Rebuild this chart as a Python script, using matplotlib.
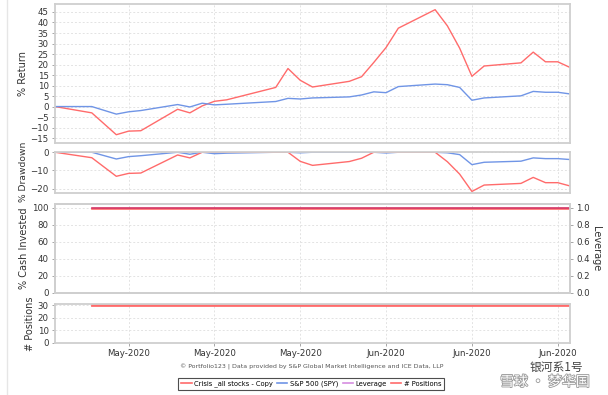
import matplotlib
matplotlib.use("Agg")
import matplotlib.pyplot as plt
import matplotlib.dates as mdates
import matplotlib.patheffects as pe
from matplotlib.lines import Line2D
import pandas as pd

dates = ["2020-05-08", "2020-05-11", "2020-05-13", "2020-05-14", "2020-05-15",
         "2020-05-18", "2020-05-19", "2020-05-20", "2020-05-21", "2020-05-22",
         "2020-05-26", "2020-05-27", "2020-05-28", "2020-05-29", "2020-06-01",
         "2020-06-02", "2020-06-03", "2020-06-04", "2020-06-05", "2020-06-08",
         "2020-06-09", "2020-06-10", "2020-06-11", "2020-06-12", "2020-06-15",
         "2020-06-16", "2020-06-17", "2020-06-18", "2020-06-19"]

port_return = [0, -3.0, -13.4, -11.7, -11.5, -1.3, -3.0, 0.3, 2.5, 3.2,
               9.1, 18.1, 12.5, 9.3, 12.0, 14.2, 21.0, 28.1, 37.3, 46.1,
               38.4, 27.8, 14.4, 19.3, 20.8, 25.9, 21.3, 21.3, 18.6]
spy_return = [0, 0, -3.6, -2.5, -1.9, 0.95, -0.2, 1.6, 0.8, 1.1,
              2.4, 3.9, 3.6, 4.1, 4.6, 5.5, 7.0, 6.6, 9.5, 10.7,
              10.4, 9.1, 3.0, 4.1, 5.1, 7.2, 6.8, 6.8, 6.0]
port_dd = [0, -3.0, -13.2, -11.6, -11.4, -1.5, -3.1, 0, 0, 0,
           0, 0, -5.0, -7.2, -5.1, -3.3, 0, 0, 0, 0,
           -5.2, -12.0, -21.5, -18.0, -17.1, -13.8, -16.7, -16.7, -18.5]
spy_dd = [0, 0, -3.7, -2.4, -1.9, 0, -1.1, 0, -0.8, -0.5,
          0, 0, -0.3, 0, 0, 0, 0, -0.4, 0, 0,
          -0.3, -1.3, -6.8, -5.5, -4.9, -3.1, -3.5, -3.5, -4.0]

hold_dates = dates[1:]
cash_invested = [99] * len(hold_dates)
leverage = [1.0] * len(hold_dates)
positions = [30] * len(hold_dates)

tick_dates = ["2020-05-14", "2020-05-21", "2020-05-28", "2020-06-04", "2020-06-11", "2020-06-18"]

legend_labels = ["Crisis _all stocks - Copy", "S&P 500 (SPY)", "Leverage", "# Positions"]

RED = "#ff6b6b"
BLUE = "#7095e6"
VIOLET = "#d58ee0"
CRIMSON = "#d33462"
GRID = "#e3e3e3"
FRAME = "#cfcfcf"

d = pd.to_datetime(dates)
hd = pd.to_datetime(hold_dates)
td = pd.to_datetime(tick_dates)

fig = plt.figure(figsize=(6.08, 3.95), dpi=100)
fig.patch.set_facecolor("white")

L, W = 55 / 608, 515 / 608
def box(top, bottom):
    return [L, 1 - bottom / 395, W, (bottom - top) / 395]

ax1 = fig.add_axes(box(4, 142.7))
ax2 = fig.add_axes(box(151.7, 192.7))
ax3 = fig.add_axes(box(204, 293))
ax4 = fig.add_axes(box(304, 343))

for ax in (ax1, ax2, ax3, ax4):
    ax.set_xlim(d[0], d[-1])
    ax.set_xticks(td)
    ax.grid(True, color=GRID, linestyle=(0, (2, 2)), linewidth=0.7)
    ax.set_axisbelow(True)
    for s in ax.spines.values():
        s.set_color(FRAME)
        s.set_linewidth(1.3)
    ax.tick_params(axis="both", labelsize=6.2, colors="#333333", length=2.5,
                   width=0.6, pad=2)
    ax.tick_params(axis="both", color="#999999")

for ax in (ax1, ax2, ax3):
    ax.tick_params(axis="x", labelbottom=False, length=0)

ax4.xaxis.set_major_formatter(mdates.DateFormatter("%b-%Y"))

ax1.plot(d, port_return, color=RED, lw=1.0)
ax1.plot(d, spy_return, color=BLUE, lw=1.0)
ax1.set_ylim(-17.2, 48.8)
ax1.set_yticks(range(-15, 50, 5))
ax1.set_ylabel("% Return", fontsize=7, color="#333333", labelpad=2)

ax2.plot(d, spy_dd, color=BLUE, lw=1.0)
ax2.plot(d, port_dd, color=RED, lw=1.0)
ax2.set_ylim(-22.2, 0.3)
ax2.set_yticks([-20, -10, 0])
ax2.set_ylabel("% Drawdown", fontsize=6.6, color="#333333", labelpad=2)

ax3.plot(hd, cash_invested, color=RED, lw=1.2)
ax3.set_ylim(0, 104.3)
ax3.set_yticks(range(0, 101, 20))
ax3.set_ylabel("% Cash Invested", fontsize=7, color="#333333", labelpad=2)
ax3r = ax3.twinx()
ax3r.set_xlim(d[0], d[-1])
ax3r.plot(hd, leverage, color=CRIMSON, lw=1.2)
ax3r.set_ylim(0, 1.043)
ax3r.set_yticks([0, 0.2, 0.4, 0.6, 0.8, 1.0])
ax3r.tick_params(axis="y", labelsize=6.2, colors="#333333", length=2.5, width=0.6, pad=2)
ax3r.tick_params(axis="y", color="#999999")
for s in ax3r.spines.values():
    s.set_color(FRAME)
    s.set_linewidth(1.3)
ax3r.set_ylabel("Leverage", fontsize=7, color="#333333", rotation=270, labelpad=8)

ax4.plot(hd, positions, color=RED, lw=2.0)
ax4.set_ylim(-0.3, 31)
ax4.set_yticks([0, 10, 20, 30])
ax4.set_ylabel("# Positions", fontsize=7, color="#333333", labelpad=2)

fig.align_ylabels([ax1, ax2, ax3, ax4])

fig.text(0.513, 1 - 367 / 395,
         "\u00a9 Portfolio123 | Data provided by S&P Global Market Intelligence and ICE Data, LLP",
         ha="center", va="center", fontsize=4.5, color="#555555")

handles = [Line2D([], [], color=RED, lw=1.2),
           Line2D([], [], color=BLUE, lw=1.2),
           Line2D([], [], color=VIOLET, lw=1.2),
           Line2D([], [], color=RED, lw=1.2)]
leg = fig.legend(handles, legend_labels, loc="center", bbox_to_anchor=(0.512, 1 - 384 / 395),
                 ncol=4, fontsize=4.9, frameon=True, fancybox=False, handlelength=1.5,
                 handletextpad=0.4, columnspacing=0.6, borderpad=0.45)
leg.get_frame().set_edgecolor("#222222")
leg.get_frame().set_linewidth(0.8)

fig.add_artist(Line2D([7 / 608, 7 / 608], [0, 1], color="#e6e6e6", lw=1))

cjk = ["Noto Sans CJK SC", "DejaVu Sans"]
fig.text(556 / 608, 1 - 367 / 395, "银河系1号", ha="center", va="center",
         fontsize=8.5, color="#444444", family=cjk)
fig.text(545 / 608, 1 - 382 / 395, "雪球 · 梦华国", ha="center", va="center",
         fontsize=10, color="white", family=cjk,
         path_effects=[pe.withStroke(linewidth=1.2, foreground="#9a9a9a")])

fig.savefig("out.png", dpi=100, facecolor="white")
